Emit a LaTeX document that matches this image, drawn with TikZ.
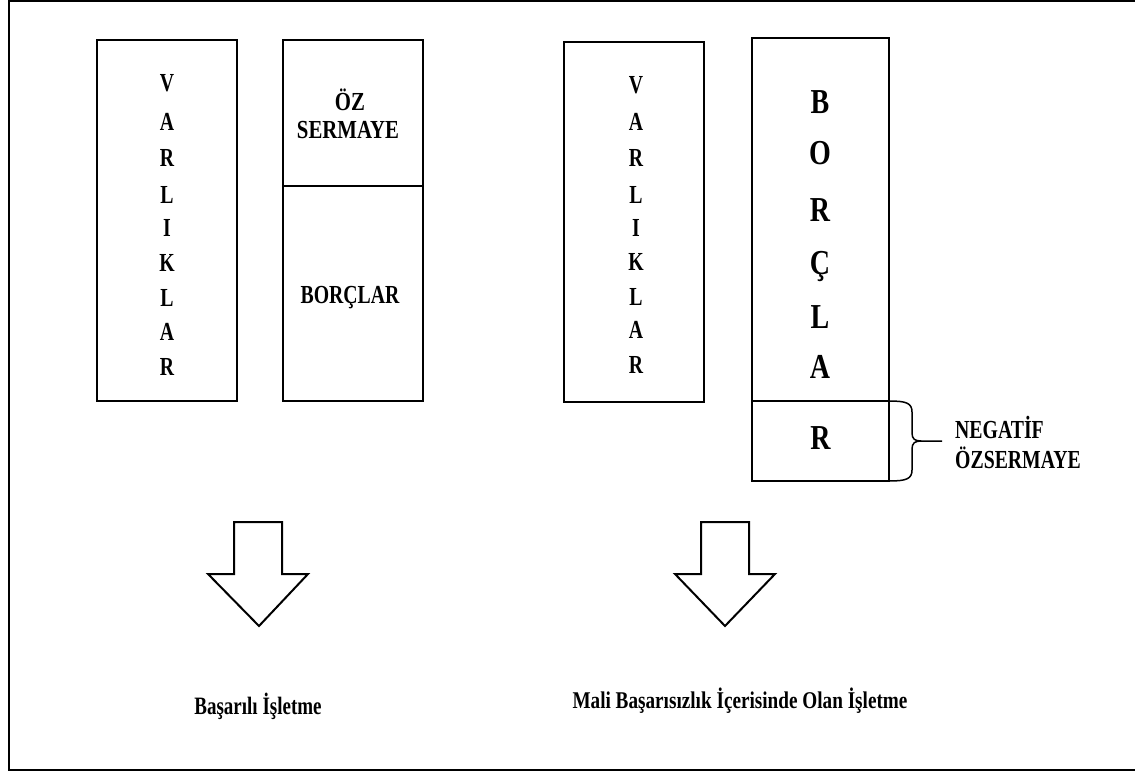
\documentclass[tikz,border=0pt]{standalone}
\usepackage{fontspec}
\setmainfont{Liberation Serif}
\newfontfamily\condA[FakeStretch=0.80]{Liberation Serif}
\newfontfamily\condC[FakeStretch=0.76]{Liberation Serif}
\begin{document}
\begin{tikzpicture}[x=1pt,y=-1pt,
  box/.style={draw, line width=2pt, inner sep=0pt, outer sep=0pt},
  letter/.style={inner sep=0pt, anchor=base, font=\condC\bfseries\fontsize{26}{30}\selectfont},
  bigletter/.style={inner sep=0pt, anchor=base, font=\condA\bfseries\fontsize{35}{40}\selectfont},
  label/.style={inner sep=0pt, anchor=base, font=\condA\bfseries\fontsize{26}{30}\selectfont},
  labelc/.style={inner sep=0pt, anchor=base, font=\condC\bfseries\fontsize{26}{30}\selectfont},
  caption/.style={inner sep=0pt, anchor=base, font=\condC\bfseries\fontsize{25}{30}\selectfont},
  captionb/.style={inner sep=0pt, anchor=base, font=\condA\bfseries\fontsize{24}{30}\selectfont},
  blockarrow/.style={draw, line width=2pt, miter limit=10, fill=white}]
\useasboundingbox (0,0) rectangle (1135,773);
% outer frame (right side outside the picture)
\draw[line width=2pt] (1135,1) -- (9,1) -- (9,770) -- (1135,770);

% ---- left group: successful firm
\node[box, minimum width=140pt, minimum height=361pt] (va1) at (167,220.5) {};
\node[box, minimum width=140pt, minimum height=146pt] (oz1) at (353,113) {};
\node[box, minimum width=140pt, minimum height=215pt] (bo1) at (353,293.5) {};
\foreach \l/\y [count=\i] in {V/91.5,A/130.5,R/166.5,L/203.5,I/236.5,K/271.5,L/306.5,A/340.5,R/375.5}
  \node[letter] (va1l\i) at (167,\y) {\l};
\node[label] (oztxt1) at (350,110.5) {ÖZ};
\node[label] (oztxt2) at (348,138.5) {SERMAYE};
\node[labelc] (bortxt) at (350,303.5) {BORÇLAR};

% ---- right group: firm in financial failure
\node[box, minimum width=140pt, minimum height=360pt] (va2) at (634,222) {};
\node[box, minimum width=137pt, minimum height=363pt] (bo2) at (820.5,219.5) {};
\node[box, minimum width=137pt, minimum height=80pt] (r2) at (820.5,441) {};
\foreach \l/\y [count=\i] in {V/93.5,A/130.5,R/166.5,L/203.5,I/236.5,K/270.5,L/305.5,A/338.5,R/373.5}
  \node[letter] (va2l\i) at (636,\y) {\l};
\foreach \l/\y [count=\i] in {B/113.5,O/164.5,R/221.5,Ç/274.5,L/328.5,A/378.5}
  \node[bigletter] (bo2l\i) at (820,\y) {\l};
\node[bigletter] (r2l) at (r2.center |- 0,449.5) {R};

% brace
\draw[line width=1.5pt] (r2.north east) .. controls (906,401) and (912,403) .. (912,412)
  -- (912,433) .. controls (912,439) and (915,441) .. (921,441) -- (942,441);
\draw[line width=1.5pt] (921,441) .. controls (915,441) and (912,443) .. (912,449)
  -- (912,470) .. controls (912,479) and (906,481) .. (r2.south east);
\node[labelc, anchor=base west] (neg1) at (955,438) {NEGATİF};
\node[labelc, anchor=base west] (neg2) at (955,468) {ÖZSERMAYE};

% block arrows
\draw[blockarrow] (234,522) -- (282,522) -- (282,574) -- (308,574) -- (259,626)
  -- (208,574) -- (234,574) -- cycle;
\draw[blockarrow] (701,522) -- (749,522) -- (749,574) -- (775,574) -- (725,626)
  -- (675,574) -- (701,574) -- cycle;

% captions
\node[caption] (cap1) at (258,714) {Başarılı İşletme};
\node[captionb] (cap2) at (740,708) {Mali Başarısızlık İçerisinde Olan İşletme};
\end{tikzpicture}
\end{document}
